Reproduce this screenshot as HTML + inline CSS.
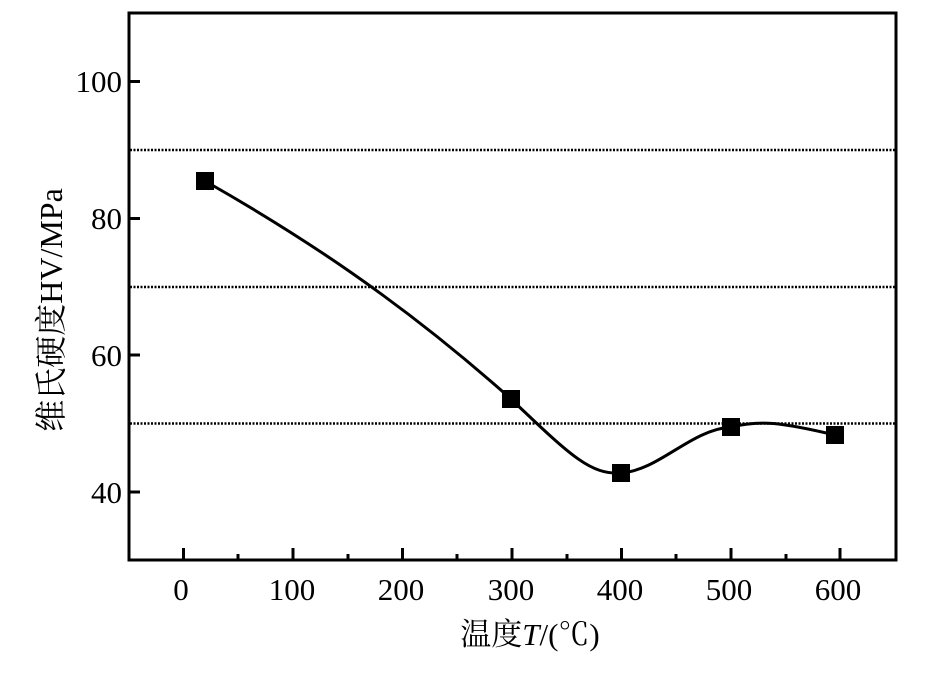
<!DOCTYPE html>
<html><head><meta charset="utf-8"><style>body{margin:0;background:#fff}</style></head>
<body>
<svg width="950" height="668" xmlns="http://www.w3.org/2000/svg" font-family="Liberation Serif, Noto Serif CJK SC, serif">
<rect width="950" height="668" fill="#fff"/>
<g stroke="#000" stroke-width="2.5" stroke-dasharray="2,1.5">
<line x1="130" y1="150" x2="895" y2="150"/>
<line x1="130" y1="287" x2="895" y2="287"/>
<line x1="130" y1="423.5" x2="895" y2="423.5"/>
</g>
<rect x="129" y="13" width="767" height="547" fill="none" stroke="#000" stroke-width="3"/>
<g stroke="#000" stroke-width="3">
<line x1="129" y1="81.5" x2="140" y2="81.5"/>
<line x1="129" y1="218.5" x2="140" y2="218.5"/>
<line x1="129" y1="355" x2="140" y2="355"/>
<line x1="129" y1="492" x2="140" y2="492"/>
<line x1="183.5" y1="560" x2="183.5" y2="548"/>
<line x1="238" y1="560" x2="238" y2="554"/>
<line x1="293" y1="560" x2="293" y2="548"/>
<line x1="348" y1="560" x2="348" y2="554"/>
<line x1="402.5" y1="560" x2="402.5" y2="548"/>
<line x1="457" y1="560" x2="457" y2="554"/>
<line x1="512" y1="560" x2="512" y2="548"/>
<line x1="567" y1="560" x2="567" y2="554"/>
<line x1="621.5" y1="560" x2="621.5" y2="548"/>
<line x1="676" y1="560" x2="676" y2="554"/>
<line x1="731" y1="560" x2="731" y2="548"/>
<line x1="786" y1="560" x2="786" y2="554"/>
<line x1="840" y1="560" x2="840" y2="548"/>
</g>
<g font-size="31" text-anchor="end">
<text x="122" y="92">100</text><text x="122" y="229">80</text><text x="122" y="366">60</text><text x="122" y="503">40</text>
</g>
<g font-size="31" text-anchor="middle">
<text x="181" y="600">0</text><text x="292" y="600">100</text><text x="401" y="600">200</text><text x="511" y="600">300</text><text x="620" y="600">400</text><text x="729" y="600">500</text><text x="838" y="600">600</text>
</g>
<text x="530" y="645" font-size="31" text-anchor="middle">温度<tspan font-style="italic">T</tspan>/(℃)</text>
<text transform="translate(62,310) rotate(-90)" font-size="32" text-anchor="middle">维氏硬度HV/MPa</text>
<path d="M205,181 C300,235 400,300 511,399 C570,455 590,475 621,473 C660,470 690,430 731,427 C760,420 780,422 835,435" fill="none" stroke="#000" stroke-width="3"/>
<g fill="#000">
<rect x="196" y="172" width="18" height="18"/>
<rect x="502" y="390" width="18" height="18"/>
<rect x="612" y="464" width="18" height="18"/>
<rect x="722" y="418" width="18" height="18"/>
<rect x="826" y="426" width="18" height="18"/>
</g>
</svg>
</body></html>
